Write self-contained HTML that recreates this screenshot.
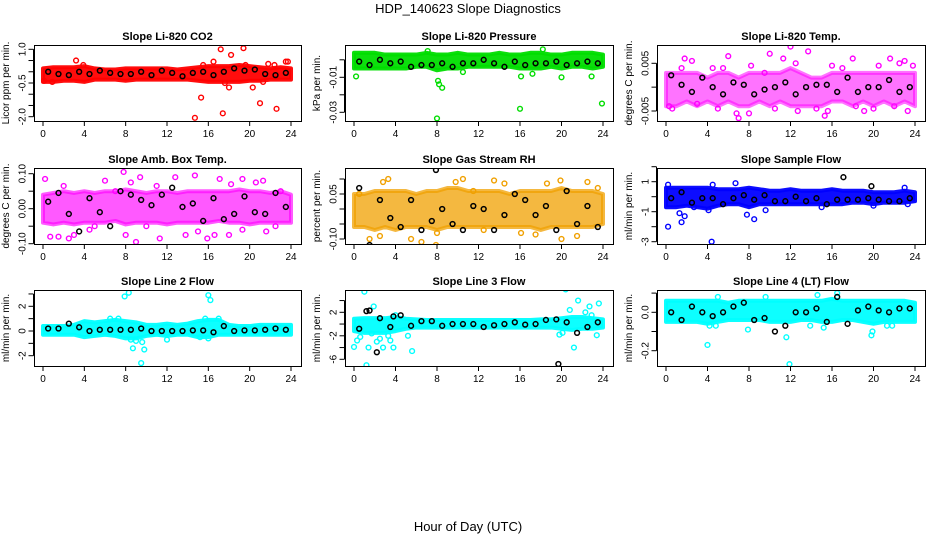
<!DOCTYPE html>
<html><head><meta charset="utf-8"><style>
body{margin:0;background:#fff}
svg{display:block;font-family:"Liberation Sans",sans-serif}
</style></head><body>
<svg id="c" width="936" height="540" viewBox="0 0 936 540">
<text x="468" y="13" text-anchor="middle" font-size="13">HDP_140623  Slope Diagnostics</text>
<text x="468" y="531" text-anchor="middle" font-size="13">Hour of Day (UTC)</text>
</svg>
<script>
const hours=[0,1,2,3,4,5,6,7,8,9,10,11,12,13,14,15,16,17,18,19,20,21,22,23,24];
const blackHours=[0.5,1.5,2.5,3.5,4.5,5.5,6.5,7.5,8.5,9.5,10.5,11.5,12.5,13.5,14.5,15.5,16.5,17.5,18.5,19.5,20.5,21.5,22.5,23.5];
const xTicks=[0,4,8,12,16,20,24];

const co2Lo=[-0.45,-0.45,-0.4,-0.4,-0.45,-0.35,-0.35,-0.35,-0.4,-0.35,-0.35,-0.35,-0.35,-0.35,-0.35,-0.4,-0.45,-0.45,-0.45,-0.45,-0.4,-0.4,-0.35,-0.35,-0.35];
const co2Hi=[0.15,0.2,0.2,0.2,0.25,0.15,0.1,0.1,0.15,0.15,0.15,0.15,0.15,0.1,0.15,0.2,0.25,0.25,0.25,0.3,0.25,0.2,0.15,0.2,0.15];
const co2Black=[0,-0.1,-0.15,0,-0.1,0.05,-0.05,-0.1,-0.1,0,-0.15,0.05,-0.05,-0.2,-0.05,0,-0.15,0,0.15,0.05,0.1,-0.1,-0.15,-0.05];
const co2Out=[[0.1,-0.4],[0.9,-0.45],[3.2,0.5],[3.9,0.3],[15.3,-1.15],[14.7,-2.05],[17.4,-1.85],[16.5,0.45],[17.2,1.0],[18.2,0.75],[19.4,1.05],[19.6,0.3],[21.0,-1.4],[22.6,-1.65],[21.8,0.35],[22.4,0.3],[23.5,0.45],[23.7,0.45],[18.0,-0.7],[20.3,-0.7],[15.5,0.3],[17.6,-0.5],[21.3,-0.45]];

const presLo=[-0.005,-0.005,-0.005,-0.005,-0.005,-0.005,-0.004,-0.004,-0.006,-0.005,-0.005,-0.004,-0.004,-0.004,-0.004,-0.004,-0.005,-0.005,-0.005,-0.004,-0.005,-0.004,-0.004,-0.005,-0.004];
const presHi=[0.004,0.004,0.004,0.003,0.003,0.003,0.003,0.004,0.003,0.003,0.004,0.003,0.003,0.003,0.004,0.003,0.003,0.004,0.004,0.003,0.003,0.004,0.004,0.004,0.003];
const presBlack=[-0.001,-0.003,0,-0.002,-0.001,-0.004,-0.003,-0.003,-0.002,-0.004,-0.002,-0.002,0,-0.002,-0.004,-0.001,-0.003,-0.002,-0.002,-0.001,-0.003,-0.002,-0.001,-0.002];
const presOut=[[8.0,-0.0335],[16.0,-0.028],[23.9,-0.025],[8.1,-0.012],[8.2,-0.014],[8.5,-0.016],[0.2,-0.0095],[16.1,-0.0095],[20.0,-0.010],[18.2,0.006],[10.5,-0.007],[17.2,-0.008],[22.9,-0.0095],[7.1,0.005]];

const tempLo=[-0.004,-0.004,-0.003,-0.004,-0.003,-0.004,-0.003,-0.004,-0.004,-0.003,-0.004,-0.003,-0.004,-0.004,-0.004,-0.004,-0.003,-0.003,-0.004,-0.003,-0.004,-0.003,-0.004,-0.003,-0.004];
const tempHi=[0.003,0.003,0.003,0.003,0.002,0.003,0.003,0.002,0.003,0.003,0.003,0.003,0.004,0.003,0.002,0.002,0.003,0.003,0.003,0.003,0.003,0.003,0.003,0.003,0.003];
const tempBlack=[0.0025,0.0005,-0.001,0.002,0,-0.0015,0.001,0.0005,-0.0015,-0.0005,0,0.001,-0.0015,0,0.0005,0.0005,-0.001,0.002,-0.001,0,0,0.0015,-0.001,0];
const tempOut=[[0.3,-0.004],[0.6,-0.0045],[1.5,0.004],[1.8,0.006],[2.5,0.0055],[4.5,0.004],[5.0,-0.0045],[5.5,0.004],[6.0,0.0065],[6.8,-0.0055],[8.0,-0.0055],[8.2,0.0045],[10.0,0.007],[10.5,-0.0045],[11.3,0.006],[12.0,0.0085],[12.5,0.005],[12.7,-0.005],[13.7,0.0075],[14.5,-0.0045],[15.3,-0.006],[15.6,-0.005],[16.0,0.0045],[18.0,0.006],[18.3,-0.004],[19.1,-0.005],[20.0,-0.0045],[20.5,0.0045],[21.6,0.006],[22.0,-0.004],[22.5,0.005],[23.0,0.0055],[23.3,-0.005],[23.8,0.0045],[7.0,-0.0065],[3.0,-0.0035],[9.5,0.003],[17.0,0.004]];

const ambLo=[-0.04,-0.045,-0.04,-0.045,-0.04,-0.04,-0.04,-0.035,-0.045,-0.04,-0.04,-0.04,-0.045,-0.04,-0.04,-0.04,-0.04,-0.035,-0.04,-0.04,-0.045,-0.04,-0.04,-0.04,-0.04];
const ambHi=[0.04,0.045,0.05,0.045,0.05,0.045,0.05,0.05,0.055,0.05,0.045,0.05,0.05,0.045,0.05,0.05,0.05,0.05,0.05,0.055,0.05,0.05,0.045,0.05,0.04];
const ambBlack=[0.02,0.045,-0.015,-0.065,0.03,-0.01,-0.05,0.05,0.04,0.025,0.01,0.04,0.06,0.005,0.015,-0.035,0.03,-0.03,-0.015,0.035,-0.01,-0.015,0.045,0.005];
const ambOut=[[0.2,0.085],[0.7,-0.08],[1.5,-0.08],[2,0.065],[2.5,-0.085],[3,-0.075],[4.5,-0.06],[6,0.08],[7,0.05],[7.8,0.105],[8,-0.075],[8.5,0.075],[9.0,-0.095],[9.4,0.09],[10,-0.05],[11.3,-0.085],[12.8,0.09],[13.8,-0.075],[14.7,0.095],[15,-0.065],[15.9,-0.085],[16.6,-0.075],[17.1,0.085],[18,-0.075],[18.2,0.07],[19.3,0.085],[19.3,-0.06],[20.6,0.075],[21.3,0.08],[21.6,-0.065],[22.5,-0.05],[23,0.05],[11,0.065],[5,-0.05]];

const rhLo=[-0.06,-0.06,-0.07,-0.06,-0.07,-0.06,-0.06,-0.06,-0.07,-0.06,-0.06,-0.06,-0.06,-0.06,-0.06,-0.06,-0.06,-0.06,-0.07,-0.06,-0.06,-0.06,-0.06,-0.06,-0.05];
const rhHi=[0.05,0.05,0.06,0.06,0.06,0.06,0.05,0.06,0.06,0.07,0.07,0.06,0.06,0.06,0.06,0.05,0.06,0.06,0.06,0.06,0.07,0.06,0.06,0.06,0.05];
const rhBlack=[0.07,-0.12,0.03,-0.03,-0.06,0.03,-0.07,-0.04,0.0,-0.05,-0.07,0.01,0.0,-0.07,-0.02,0.05,0.03,-0.02,0.01,-0.07,0.06,-0.05,0.01,-0.06];
const rhOut=[[0.5,0.05],[2.8,0.09],[3.3,0.1],[5.5,-0.1],[6.5,-0.11],[7.9,-0.12],[9.8,0.09],[10.5,0.1],[11.5,0.06],[13.5,0.095],[14.5,0.085],[16.1,-0.08],[17.5,-0.085],[18.6,0.085],[19.9,0.095],[20.0,-0.1],[21.5,-0.09],[22.5,0.09],[23.5,0.07],[1.5,-0.1],[2.5,-0.09],[12.5,-0.07],[8.0,-0.08]];

const sfLo=[-0.7,-0.7,-0.6,-0.7,-0.8,-0.6,-0.5,-0.5,-0.7,-0.5,-0.5,-0.5,-0.5,-0.5,-0.5,-0.5,-0.5,-0.5,-0.4,-0.4,-0.5,-0.4,-0.4,-0.4,-0.3];
const sfHi=[0.6,0.6,0.6,0.6,0.6,0.5,0.5,0.5,0.6,0.5,0.4,0.4,0.5,0.4,0.4,0.4,0.5,0.4,0.4,0.4,0.3,0.3,0.3,0.4,0.3];
const sfBlack=[-0.1,0.3,-0.4,-0.1,-0.1,-0.5,-0.1,0.1,-0.2,0.1,-0.3,-0.3,0,-0.3,-0.1,-0.5,-0.2,-0.2,-0.2,-0.1,-0.2,-0.3,-0.3,-0.1];
const sfOut=[[1.8,2.5],[4.2,2.4],[0.2,-2.0],[4.4,-3.0],[1.5,-1.7],[1.3,-1.1],[1.8,-1.3],[7.8,-1.2],[8.5,-1.5],[9.6,-0.9],[4.5,0.8],[6.7,0.9],[23,0.6],[0.2,0.8],[2.7,-0.7],[4.1,-0.9],[15,-0.7],[20,-0.6],[23.3,-0.5]];
const sfBlackOut=[[17.1,1.3],[19.8,0.7]];

const l2Lo=[-0.3,-0.3,-0.3,-0.3,-0.5,-0.4,-0.3,-0.4,-0.6,-0.6,-0.4,-0.3,-0.4,-0.3,-0.3,-0.5,-0.5,-0.3,-0.3,-0.3,-0.3,-0.3,-0.3,-0.3,-0.3];
const l2Hi=[0.4,0.4,0.4,0.5,0.8,0.7,0.8,0.9,0.8,0.7,0.5,0.5,0.6,0.5,0.6,0.8,0.9,0.9,0.5,0.4,0.4,0.5,0.5,0.5,0.5];
const l2Black=[0.2,0.2,0.6,0.3,0,0.1,0.1,0.1,0.1,0.2,0,0,0,0,0.05,0.05,-0.1,0.4,0,0.05,0.05,0.1,0.2,0.1];
const l2Out=[[7.9,2.8],[8.3,3.1],[16.0,2.9],[16.2,2.5],[8.7,-1.4],[9.8,-1.5],[9.5,-2.6],[12.0,-0.7],[9.0,-0.8],[9.6,-0.9],[6.5,1.0],[7.3,1.0],[15.7,1.0],[17.0,1.0],[8.5,-0.7],[16,-0.6],[15.2,-0.5]];

const l3Lo=[-1.2,-1.5,-1.5,-1.5,-1.2,-0.8,-0.6,-0.6,-0.6,-0.6,-0.6,-0.6,-0.6,-0.6,-0.6,-0.6,-0.6,-0.6,-0.6,-0.6,-0.8,-1.0,-0.8,-0.8,-0.6];
const l3Hi=[0.9,1.0,1.0,1.0,1.2,0.9,0.8,0.7,0.7,0.7,0.7,0.7,0.7,0.7,0.7,0.7,0.7,0.7,0.8,0.8,1.0,1.2,1.2,1.0,0.8];
const l3Black=[-0.8,2.3,1.0,-0.5,1.5,-0.3,0.5,0.5,-0.3,0,0,0,-0.5,-0.2,0,0.3,-0.1,0,0.7,0.8,0.3,-1.5,-0.5,0.3];
const l3Out=[[0.0,-3.9],[0.3,-2.8],[0.6,-2.2],[1.0,5.5],[1.2,-7.0],[1.7,-1.6],[1.9,3.0],[1.4,-4.0],[2.2,-3.0],[2.5,-2.5],[2.8,-4.0],[3.3,-2.0],[3.5,-2.8],[3.8,-4.0],[4.0,1.5],[5.2,-2.0],[5.6,-4.6],[20.4,5.9],[20.8,2.4],[21.2,-4.0],[21.6,4.0],[22.3,2.0],[22.7,3.0],[22.9,1.5],[23.4,-1.9],[23.6,3.5],[20.1,-1.5],[19.8,-1.8]];
const l3BlackOut=[[2.2,-4.8],[19.7,-6.8],[1.2,2.2],[3.8,1.3]];

const l4Lo=[-0.05,-0.05,-0.05,-0.05,-0.06,-0.05,-0.04,-0.04,-0.04,-0.04,-0.05,-0.05,-0.05,-0.04,-0.04,-0.05,-0.05,-0.04,-0.04,-0.05,-0.06,-0.05,-0.05,-0.05,-0.05];
const l4Hi=[0.06,0.06,0.06,0.06,0.06,0.06,0.05,0.06,0.06,0.06,0.06,0.06,0.06,0.06,0.06,0.06,0.07,0.06,0.06,0.06,0.06,0.06,0.06,0.06,0.05];
const l4Black=[0.0,-0.04,0.03,0.0,-0.02,0.0,0.03,0.05,-0.04,-0.03,-0.1,-0.07,0.0,0.0,0.02,-0.05,0.08,-0.06,0.01,0.03,0.01,0.0,0.02,0.02];
const l4Out=[[4.0,-0.17],[11.9,-0.27],[11.6,-0.13],[7.9,-0.09],[19.8,-0.12],[19.9,-0.1],[16.5,0.1],[5.0,0.08],[9.6,0.08],[4.2,-0.07],[4.8,-0.07],[14.6,0.09],[13.9,-0.07],[21.3,-0.07],[21.8,-0.07],[15.2,-0.08]];

const panels=[
 {name:'co2',title:'Slope Li-820 CO2',ylab:'Licor ppm per min.',col:'#ff0000',fo:0.95,c:0,r:0,ref:[1,49.3,-2,116.7],ticks:[1,0.5,0,-0.5,-1,-1.5,-2],labs:[[1,'1.0'],[-0.5,'-0.5'],[-2,'-2.0']],lo:co2Lo,hi:co2Hi,bk:co2Black,out:co2Out,bo:[]},
 {name:'pressure',title:'Slope Li-820 Pressure',ylab:'kPa per min.',col:'#00dd00',fo:0.95,c:1,r:0,ref:[-0.01,77.3,-0.03,112.3],ticks:[0,-0.01,-0.02,-0.03],labs:[[-0.01,'-0.01'],[-0.03,'-0.03']],lo:presLo,hi:presHi,bk:presBlack,out:presOut,bo:[]},
 {name:'li820-temp',title:'Slope Li-820 Temp.',ylab:'degrees C per min.',col:'#ff00ff',fo:0.55,c:2,r:0,ref:[0.005,63.3,-0.005,111],ticks:[0.005,0,-0.005],labs:[[0.005,'0.005'],[-0.005,'-0.005']],lo:tempLo,hi:tempHi,bk:tempBlack,out:tempOut,bo:[]},
 {name:'amb-box-temp',title:'Slope Amb. Box Temp.',ylab:'degrees C per min.',col:'#ff00ff',fo:0.65,c:0,r:1,ref:[0.1,173.7,-0.1,243.7],ticks:[0.1,0.05,0,-0.05,-0.1],labs:[[0.1,'0.10'],[0,'0.00'],[-0.1,'-0.10']],lo:ambLo,hi:ambHi,bk:ambBlack,out:ambOut,bo:[]},
 {name:'gas-stream-rh',title:'Slope Gas Stream RH',ylab:'percent per min.',col:'#f0a000',fo:0.75,c:1,r:1,ref:[0.05,194,-0.1,239],ticks:[0.1,0.05,0,-0.05,-0.1],labs:[[0.05,'0.05'],[-0.1,'-0.10']],lo:rhLo,hi:rhHi,bk:rhBlack,out:rhOut,bo:[[7.9,0.13]]},
 {name:'sample-flow',title:'Slope Sample Flow',ylab:'ml/min per min.',col:'#0000ff',fo:0.95,c:2,r:1,ref:[1,181.7,-3,241.7],ticks:[2,1,0,-1,-2,-3],labs:[[1,'1'],[-1,'-1'],[-3,'-3']],lo:sfLo,hi:sfHi,bk:sfBlack,out:sfOut,bo:sfBlackOut},
 {name:'line2-flow',title:'Slope Line 2 Flow',ylab:'ml/min per min.',col:'#00ffff',fo:0.95,c:0,r:2,ref:[2,306.3,-2,355.7],ticks:[3,2,1,0,-1,-2],labs:[[2,'2'],[0,'0'],[-2,'-2']],lo:l2Lo,hi:l2Hi,bk:l2Black,out:l2Out,bo:[]},
 {name:'line3-flow',title:'Slope Line 3 Flow',ylab:'ml/min per min.',col:'#00ffff',fo:0.95,c:1,r:2,ref:[2,312.3,-6,359.3],ticks:[4,2,0,-2,-4,-6],labs:[[2,'2'],[-2,'-2'],[-6,'-6']],lo:l3Lo,hi:l3Hi,bk:l3Black,out:l3Out,bo:l3BlackOut},
 {name:'line4-flow',title:'Slope Line 4 (LT) Flow',ylab:'ml/min per min.',col:'#00ffff',fo:0.95,c:2,r:2,ref:[0,312.3,-0.2,350.7],ticks:[0.1,0,-0.1,-0.2],labs:[[0,'0.0'],[-0.2,'-0.2']],lo:l4Lo,hi:l4Hi,bk:l4Black,out:l4Out,bo:[]}
];
const colX=[[34,301],[345,613],[657,925]];
const rowY=[[45,121],[168,244],[290,366]];
const NS='http://www.w3.org/2000/svg';
const svg=document.getElementById('c');
function mk(tag,attrs,parent,txt){const e=document.createElementNS(NS,tag);for(const k in attrs)e.setAttribute(k,attrs[k]);if(txt!==undefined)e.textContent=txt;parent.appendChild(e);return e;}
panels.forEach(p=>{
 const [x0,x1]=colX[p.c],[y0,y1]=rowY[p.r];
 const g=mk('g',{},svg);
 
 
 const xs=v=>x0+9+(x1-x0-19)*v/24;
 const ys=v=>p.ref[1]+(v-p.ref[0])*(p.ref[3]-p.ref[1])/(p.ref[2]-p.ref[0]);
 const cp='cp'+p.name;
 const d=mk('clipPath',{id:cp},g);mk('rect',{x:x0,y:y0,width:x1-x0,height:y1-y0},d);
 const dg=mk('g',{'clip-path':'url(#'+cp+')'},g);
 // band
 let pts=hours.map((h,i)=>xs(h)+','+ys(p.hi[i]));
 pts=pts.concat(hours.slice().reverse().map((h,j)=>xs(h)+','+ys(p.lo[hours.length-1-j])));
 const band=mk('polygon',{points:pts.join(' '),fill:p.col,'fill-opacity':p.fo,stroke:p.col,'stroke-width':4,'stroke-linejoin':'round','stroke-opacity':p.fo},dg);
 
 
 p.out.forEach(o=>{const c=mk('circle',{cx:xs(o[0]),cy:ys(o[1]),r:2.4,fill:'none',stroke:p.col,'stroke-width':1.4},dg);
  
  });
 p.bk.forEach((v,i)=>{const c=mk('circle',{cx:xs(blackHours[i]),cy:ys(v),r:2.4,fill:'none',stroke:'#000','stroke-width':1.5},dg);
  
  });
 p.bo.forEach(o=>{const c=mk('circle',{cx:xs(o[0]),cy:ys(o[1]),r:2.4,fill:'none',stroke:'#000','stroke-width':1.5},dg);
  
  });
 const fr=mk('rect',{x:x0+0.5,y:y0+0.5,width:x1-x0,height:y1-y0,fill:'none',stroke:'#000','stroke-width':1},g);
 
 
 const t=mk('text',{x:(x0+x1)/2,y:y0-5,'text-anchor':'middle','font-size':11,'font-weight':'bold'},g,p.title);
 
 
 mk('line',{x1:xs(0),x2:xs(24),y1:y1+0.5,y2:y1+0.5,stroke:'#000'},g);
 xTicks.forEach(v=>{mk('line',{x1:xs(v),x2:xs(v),y1:y1,y2:y1+5,stroke:'#000'},g);
  const l=mk('text',{x:xs(v),y:y1+16,'text-anchor':'middle','font-size':10},g,String(v));
  
  });
 const ax=x0-0.5;
 mk('line',{x1:ax,x2:ax,y1:ys(p.ticks[0]),y2:ys(p.ticks[p.ticks.length-1]),stroke:'#000'},g);
 p.ticks.forEach(v=>mk('line',{x1:ax-5,x2:ax,y1:ys(v),y2:ys(v),stroke:'#000'},g));
 p.labs.forEach(l=>{const yy=ys(l[0]);const e=mk('text',{x:ax-8,y:yy,'text-anchor':'middle','font-size':10,transform:'rotate(-90 '+(ax-8)+' '+yy+')'},g,l[1]);
  
  });
 const yc=(y0+y1)/2,yx=x0-25;
 const yt=mk('text',{x:yx,y:yc,'text-anchor':'middle','font-size':10,transform:'rotate(-90 '+yx+' '+yc+')'},g,p.ylab);
 
 
});
</script>
</body></html>
